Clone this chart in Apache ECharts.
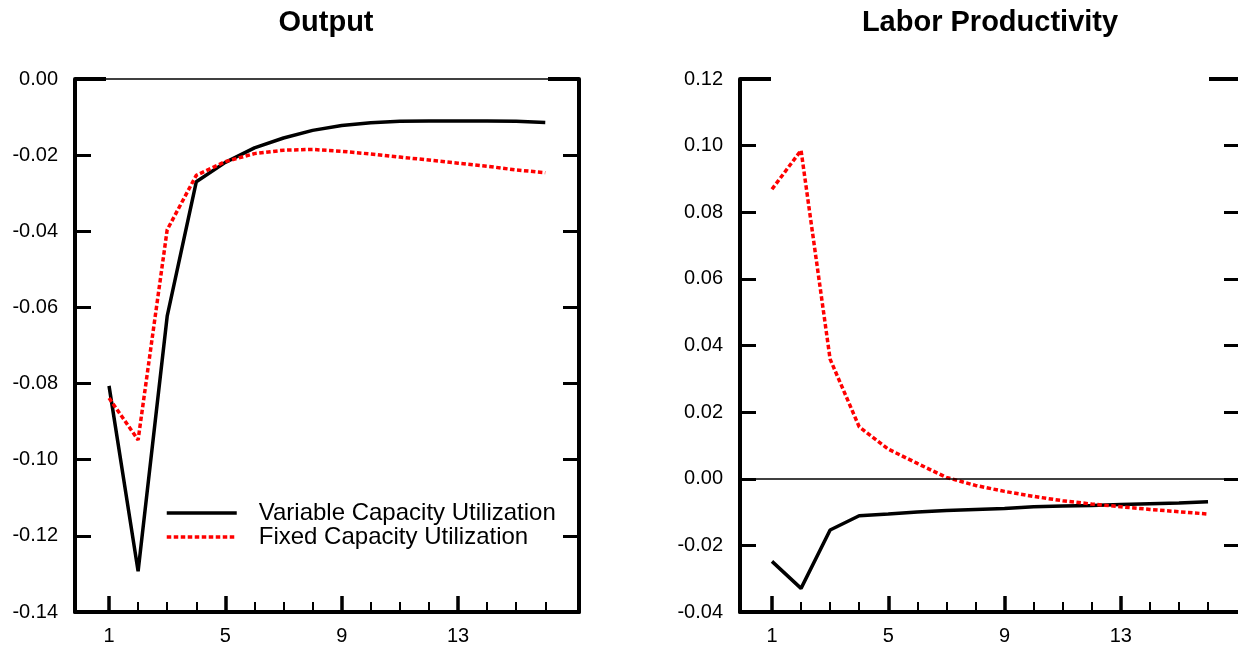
<!DOCTYPE html>
<html>
<head>
<meta charset="utf-8">
<script src="https://cdn.jsdelivr.net/npm/echarts@6/dist/echarts.min.js"></script>
<style>
html,body{margin:0;padding:0;background:#fff;}
#chart{width:1238px;height:650px;}
</style>
</head>
<body>
<div id="chart"></div>
<script>
// ---- data ----
const periods = [1, 2, 3, 4, 5, 6, 7, 8, 9, 10, 11, 12, 13, 14, 15, 16];
const seriesNames = ['Variable Capacity Utilization', 'Fixed Capacity Utilization'];
const titles = ['Output', 'Labor Productivity'];

const outputVariable = [-0.0806, -0.1293, -0.0623, -0.0270, -0.0219, -0.0181, -0.0155, -0.0135,
                        -0.0122, -0.0115, -0.0111, -0.0110, -0.0110, -0.0110, -0.0111, -0.0114];
const outputFixed    = [-0.0838, -0.0948, -0.0396, -0.0253, -0.0217, -0.0196, -0.0187, -0.0185,
                        -0.0190, -0.0197, -0.0205, -0.0213, -0.0221, -0.0229, -0.0239, -0.0246];
const prodVariable   = [-0.0248, -0.0329, -0.0154, -0.0111, -0.0106, -0.0100, -0.0095, -0.0092,
                        -0.0089, -0.0084, -0.0082, -0.0080, -0.0077, -0.0075, -0.0073, -0.0069];
const prodFixed      = [0.0869, 0.0986, 0.0359, 0.0156, 0.0089, 0.0046, 0.0004, -0.0020,
                        -0.0038, -0.0053, -0.0066, -0.0076, -0.0084, -0.0092, -0.0099, -0.0106];

const xMajorTicks = [1, 5, 9, 13];
const xMinorTicks = [2, 3, 4, 6, 7, 8, 10, 11, 12, 14, 15, 16];

const outputY = {min: -0.14, max: 0.00, step: 0.02};
const prodY   = {min: -0.04, max: 0.12, step: 0.02};

// ---- chart ----
const FONT = 'Liberation Sans';
const pairs = (vals) => periods.map((p, i) => [p, vals[i]]);

function xAxes(gridIndex, min, max) {
  return [
    {
      type: 'value', gridIndex, position: 'bottom', min, max,
      axisLine: {show: true, onZero: false, lineStyle: {color: '#000', width: 4}},
      axisTick: {show: true, inside: true, length: 16, customValues: xMajorTicks,
                 lineStyle: {color: '#000', width: 3.5}},
      axisLabel: {show: true, customValues: xMajorTicks, margin: 14,
                  color: '#000', fontSize: 20, fontFamily: FONT},
      splitLine: {show: false}
    },
    {
      type: 'value', gridIndex, position: 'bottom', min, max,
      axisLine: {show: false, onZero: false},
      axisTick: {show: true, inside: true, length: 10, customValues: xMinorTicks,
                 lineStyle: {color: '#000', width: 2}},
      axisLabel: {show: false},
      splitLine: {show: false}
    }
  ];
}

function yAxes(gridIndex, r) {
  const base = {
    type: 'value', gridIndex, min: r.min, max: r.max, interval: r.step,
    splitLine: {show: false}
  };
  return [
    Object.assign({}, base, {
      position: 'left',
      axisLine: {show: true, onZero: false, lineStyle: {color: '#000', width: 4}},
      axisTick: {show: true, inside: true, length: 16, lineStyle: {color: '#000', width: 3}},
      axisLabel: {show: true, margin: 17, color: '#000', fontSize: 20, fontFamily: FONT,
                  formatter: (v) => v.toFixed(2)}
    }),
    Object.assign({}, base, {
      position: 'right',
      axisLine: {show: true, onZero: false, lineStyle: {color: '#000', width: 4}},
      axisTick: {show: true, inside: true, length: 16, lineStyle: {color: '#000', width: 3}},
      axisLabel: {show: false}
    }),
    Object.assign({}, base, {
      position: 'left', interval: r.max - r.min,
      axisLine: {show: false, onZero: false},
      axisTick: {show: true, inside: true, length: 31, lineStyle: {color: '#000', width: 4}},
      axisLabel: {show: false}
    }),
    Object.assign({}, base, {
      position: 'right', interval: r.max - r.min,
      axisLine: {show: false, onZero: false},
      axisTick: {show: true, inside: true, length: 31, lineStyle: {color: '#000', width: 4}},
      axisLabel: {show: false}
    })
  ];
}

const zeroLine = {
  silent: true, symbol: ['none', 'none'], animation: false,
  label: {show: false},
  lineStyle: {color: '#000', width: 1.5, type: 'solid'},
  data: [{yAxis: 0}]
};

function lineSeries(name, data, xIdx, yIdx, dashed, withZero) {
  const s = {
    type: 'line', name, data: pairs(data),
    xAxisIndex: xIdx, yAxisIndex: yIdx,
    symbol: 'none', showSymbol: false, smooth: false, z: dashed ? 4 : 3,
    lineStyle: dashed
      ? {color: '#ff0000', width: 3.5, type: [4.5, 2.5]}
      : {color: '#000000', width: 3.5, type: 'solid'},
    itemStyle: {color: dashed ? '#ff0000' : '#000000'}
  };
  if (withZero) s.markLine = zeroLine;
  return s;
}

const chart = echarts.init(document.getElementById('chart'), null, {renderer: 'canvas'});
chart.setOption({
  animation: false,
  backgroundColor: '#ffffff',
  title: [
    {text: titles[0], left: 326, top: 8, textAlign: 'center', padding: 0,
     textStyle: {fontSize: 29, fontWeight: 'bold', color: '#000', fontFamily: FONT}},
    {text: titles[1], left: 990, top: 8, textAlign: 'center', padding: 0,
     textStyle: {fontSize: 29, fontWeight: 'bold', color: '#000', fontFamily: FONT}}
  ],
  legend: {
    data: seriesNames, orient: 'vertical', left: 165, top: 501,
    itemWidth: 70, itemHeight: 24, itemGap: 0, padding: 0,
    selectedMode: false,
    itemStyle: {opacity: 0},
    lineStyle: {width: 3.5},
    textStyle: {fontSize: 24, color: '#000', fontFamily: FONT, padding: [0, 0, 0, 17]}
  },
  grid: [
    {left: 75, top: 79, width: 504, height: 533, outerBoundsMode: 'none'},
    {left: 740, top: 79, width: 500, height: 533, outerBoundsMode: 'none'}
  ],
  xAxis: [].concat(xAxes(0, -0.17, 17.16), xAxes(1, -0.10, 17.10)),
  yAxis: [].concat(yAxes(0, outputY), yAxes(1, prodY)),
  series: [
    lineSeries(seriesNames[0], outputVariable, 0, 0, false, true),
    lineSeries(seriesNames[1], outputFixed, 0, 0, true, false),
    lineSeries(seriesNames[0], prodVariable, 2, 4, false, true),
    lineSeries(seriesNames[1], prodFixed, 2, 4, true, false)
  ]
});
</script>
</body>
</html>
